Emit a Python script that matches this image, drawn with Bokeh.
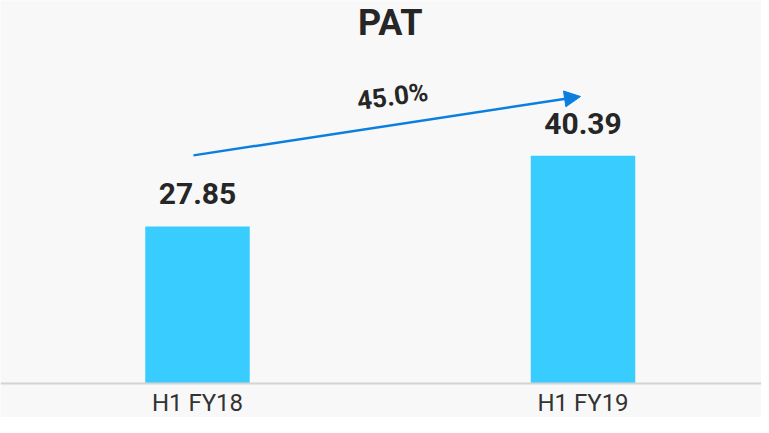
from bokeh.plotting import figure
from bokeh.models import ColumnDataSource, LabelSet, Label, Arrow, NormalHead, Span, Range1d
from bokeh.core.properties import value
from bokeh.embed import file_html
from bokeh.resources import INLINE

# ---- data ----
categories = ["H1 FY18", "H1 FY19"]
pat = [27.85, 40.39]
value_labels = ["27.85", "40.39"]
growth_label = "45.0%"
title_text = "PAT"

BAR = "#38ccff"
BLUE = "#0a7fe0"
TXT = "#262626"
BG = "#f8f8f8"

xs = list(range(len(categories)))
src = ColumnDataSource(dict(x=xs, pat=pat, vlab=value_labels, cat=categories, zero=[0] * len(xs)))

p = figure(width=761, height=417, output_backend="svg", toolbar_location=None,
           x_range=Range1d(-0.511, 1.463), y_range=Range1d(-6.03, 67.91),
           min_border=0)
p.axis.visible = False
p.grid.visible = False
p.outline_line_color = None
p.background_fill_color = BG
p.border_fill_color = BG

p.vbar(x="x", top="pat", width=0.271, source=src, fill_color=BAR, line_color=None)

# baseline
p.add_layout(Span(location=0, dimension="width", line_color="#d3d3d3", line_width=2))

# value labels
p.add_layout(LabelSet(x="x", y="pat", text="vlab", source=src, y_offset=22,
                      text_align="center", text_baseline="alphabetic",
                      text_font=value("Roboto"), text_font_size=value("30px"),
                      text_font_style="bold", text_color=TXT))

# category labels
p.add_layout(LabelSet(x="x", y="zero", text="cat", source=src, y_offset=-28,
                      text_align="center", text_baseline="alphabetic",
                      text_font=value("Roboto"), text_font_size=value("24px"),
                      text_color="#333333"))

# growth arrow
p.add_layout(Arrow(end=NormalHead(size=16, fill_color=BLUE, line_color=BLUE),
                   x_start=xs[0] - 0.0104, y_start=pat[0] + 12.6,
                   x_end=xs[1] - 0.0065, y_end=pat[1] + 10.5,
                   line_color=BLUE, line_width=2.5))

p.add_layout(Label(x=(xs[0] + xs[1]) / 2 + 0.006, y=(pat[0] + pat[1]) / 2 + 16.8,
                   text=growth_label, angle=7.5, angle_units="deg",
                   text_align="center", text_baseline="middle",
                   text_font="Roboto", text_font_size="26px", text_font_style="bold",
                   text_color=TXT))

# title
p.add_layout(Label(x=0.5, y=395, y_units="screen", text=title_text,
                   text_align="center", text_baseline="alphabetic",
                   text_font="Roboto", text_font_size="36px", text_font_style="bold",
                   text_color=TXT))

open("out.html", "w").write(file_html(p, INLINE))
